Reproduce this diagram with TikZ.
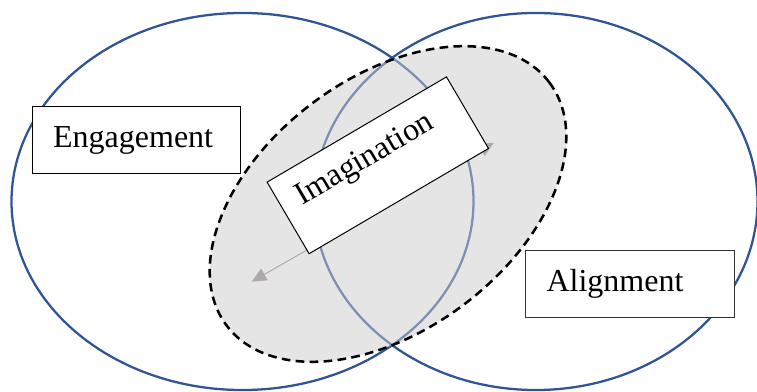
\documentclass[tikz,border=0pt]{standalone}
\usepackage{fontspec}
\setmainfont{Liberation Serif}
\usetikzlibrary{arrows.meta}
\definecolor{ringblue}{HTML}{2F5597}
\definecolor{arrowgrey}{HTML}{AEAAAA}
\tikzset{
  ring/.style={draw=ringblue, line width=1.7pt},
  focus/.style={draw=black, line width=1.9pt, dash pattern=on 6.5pt off 4pt,
    fill=gray!40, fill opacity=0.5, draw opacity=1},
  labelbox/.style={draw=black, line width=0.75pt, fill=white, align=left,
    font=\fontsize{24}{28}\selectfont, inner ysep=0pt},
  flatbox/.style={labelbox, minimum width=156.5pt, minimum height=50.25pt,
    text width=125pt, inner xsep=15.75pt, text height=30.75pt, text depth=19.5pt},
  twoway/.style={draw=arrowgrey, line width=0.75pt,
    {Triangle[length=11pt,width=10pt]}-{Triangle[length=11pt,width=10pt]}}
}
\begin{document}
\begin{tikzpicture}[x=0.75pt, y=0.75pt]
\useasboundingbox (0,0) rectangle (757,392);
% circles
\coordinate (cL) at (242.5,190.5);
\coordinate (cR) at (535.75,190.5);
\draw[ring] (cL) ellipse [x radius=173.25pt, y radius=141.4pt];
\draw[ring] (cR) ellipse [x radius=166.3pt, y radius=141.4pt];
% shaded imagination area
\coordinate (cG) at (388,188);
\path[focus, shift={(cG)}, rotate=37] (0,0) ellipse [x radius=151.5pt, y radius=94.5pt];
% two-way arrow
\coordinate (aL) at (251.7,110.3);
\coordinate (aR) at (494,249.3);
\draw[twoway] (aL) -- (aR);
% boxes
\node[labelbox, rotate=30.4, minimum width=156pt, minimum height=62.25pt,
      text width=128.6pt, inner xsep=13.7pt, text height=28.7pt, text depth=33.5pt]
      (imag) at (377.8,226.7) {Imagination};
\node[flatbox] (eng) at (136.5,251.5) {Engagement};
\node[flatbox, draw=black!80] (ali) at (629.85,107.5) {Alignment};
\end{tikzpicture}
\end{document}
